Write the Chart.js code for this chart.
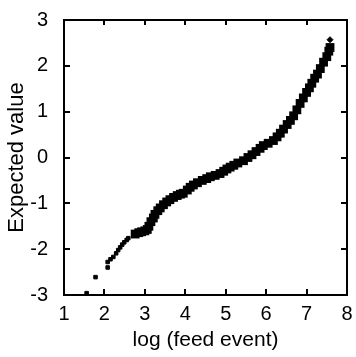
<!DOCTYPE html>
<html>
<head>
<meta charset="utf-8">
<script src="https://cdn.jsdelivr.net/npm/chart.js@4"></script>
<style>
  html, body { margin: 0; padding: 0; background: #fff; }
  #wrap { width: 356px; height: 357px; }
</style>
</head>
<body>
<div id="wrap"><canvas id="qqChart"></canvas></div>
<script>
// log(feed event) vs expected value
const sparsePoints = [
    [1.56, -2.96], [1.78, -2.61], [2.08, -2.40], [2.08, -2.28], [2.15, -2.22],
    [2.22, -2.17], [2.29, -2.09], [2.34, -2.02], [2.39, -1.96], [2.44, -1.90],
    [2.49, -1.85], [2.55, -1.80], [2.59, -1.76]
];
const mainCurve = [
    [2.76, -1.67], [2.85, -1.64], [2.92, -1.62], [3.00, -1.60], [3.06, -1.57],
    [3.10, -1.50], [3.15, -1.40], [3.21, -1.32], [3.25, -1.24], [3.32, -1.16],
    [3.38, -1.10], [3.46, -1.03], [3.54, -0.97], [3.62, -0.92], [3.71, -0.87],
    [3.80, -0.83], [3.88, -0.80], [3.95, -0.78], [4.05, -0.71], [4.12, -0.65],
    [4.20, -0.60], [4.30, -0.55], [4.42, -0.50], [4.53, -0.46], [4.62, -0.42],
    [4.74, -0.39], [4.86, -0.35], [4.95, -0.30], [5.03, -0.25], [5.11, -0.21],
    [5.20, -0.17], [5.30, -0.12], [5.44, -0.07], [5.55, 0.00], [5.65, 0.06],
    [5.75, 0.13], [5.85, 0.20], [5.93, 0.26], [6.05, 0.31], [6.18, 0.37],
    [6.27, 0.45], [6.35, 0.53], [6.43, 0.62], [6.52, 0.72], [6.60, 0.81],
    [6.68, 0.91], [6.76, 1.04], [6.84, 1.18], [6.92, 1.30], [7.00, 1.42],
    [7.07, 1.52], [7.13, 1.62], [7.20, 1.73], [7.27, 1.82], [7.34, 1.94],
    [7.42, 2.08], [7.50, 2.20], [7.55, 2.32], [7.58, 2.40]
];
const topPoint = [[7.58, 2.57]];
const xTicks = [1, 2, 3, 4, 5, 6, 7, 8];
const yTicks = [-3, -2, -1, 0, 1, 2, 3];

const toXY = arr => arr.map(p => ({ x: p[0], y: p[1] }));
const FONT = 'Liberation Sans, Arial, sans-serif';

// frame + inward ticks like the original figure
const framePlugin = {
    id: 'frame',
    afterDraw(chart) {
        const { ctx, chartArea: a, scales } = chart;
        ctx.save();
        ctx.strokeStyle = '#000';
        ctx.lineWidth = 2;
        ctx.strokeRect(a.left, a.top, a.right - a.left, a.bottom - a.top);
        xTicks.slice(1, -1).forEach(v => {
            const px = Math.round(scales.x.getPixelForValue(v));
            ctx.beginPath();
            ctx.moveTo(px, a.bottom); ctx.lineTo(px, a.bottom - 6);
            ctx.moveTo(px, a.top); ctx.lineTo(px, a.top + 5);
            ctx.stroke();
        });
        yTicks.slice(1, -1).forEach(v => {
            const py = Math.round(scales.y.getPixelForValue(v));
            ctx.beginPath();
            ctx.moveTo(a.left, py); ctx.lineTo(a.left + 6, py);
            ctx.moveTo(a.right, py); ctx.lineTo(a.right - 6, py);
            ctx.stroke();
        });
        ctx.restore();
    }
};

new Chart(document.getElementById('qqChart').getContext('2d'), {
    type: 'scatter',
    data: {
        datasets: [{
            data: toXY(sparsePoints),
            backgroundColor: '#000',
            borderColor: '#000',
            pointStyle: 'rect',
            pointRadius: 2.5,
            showLine: false
        }, {
            data: toXY(mainCurve),
            backgroundColor: '#000',
            borderColor: '#000',
            borderWidth: 5,
            pointStyle: 'rect',
            pointRadius: 2.7,
            showLine: true
        }, {
            data: toXY(topPoint),
            backgroundColor: '#000',
            borderColor: '#000',
            pointStyle: 'rectRot',
            pointRadius: 3,
            showLine: false
        }]
    },
    options: {
        responsive: true,
        maintainAspectRatio: false,
        animation: false,
        layout: { padding: { top: 16, right: 9, left: 0, bottom: 0 } },
        plugins: { legend: { display: false }, tooltip: { enabled: false } },
        scales: {
            x: {
                type: 'linear',
                min: 1,
                max: 8,
                afterBuildTicks: s => { s.ticks = xTicks.map(v => ({ value: v })); },
                afterFit: s => { s.height = 62; },
                grid: { display: false },
                border: { display: false },
                ticks: { color: '#000', padding: -1, maxRotation: 0, font: { family: FONT, size: 20 } },
                title: {
                    display: true,
                    text: 'log (feed event)',
                    color: '#000',
                    padding: { top: 0, bottom: 4 },
                    font: { family: FONT, size: 21 }
                }
            },
            y: {
                min: -3,
                max: 3,
                afterBuildTicks: s => { s.ticks = yTicks.map(v => ({ value: v })); },
                afterFit: s => { s.width = 64; },
                grid: { display: false },
                border: { display: false },
                ticks: { color: '#000', padding: 8, font: { family: FONT, size: 20 } },
                title: {
                    display: true,
                    text: 'Expected value',
                    color: '#000',
                    padding: { top: 4, bottom: 0 },
                    font: { family: FONT, size: 22 }
                }
            }
        }
    },
    plugins: [framePlugin]
});
</script>
</body>
</html>
